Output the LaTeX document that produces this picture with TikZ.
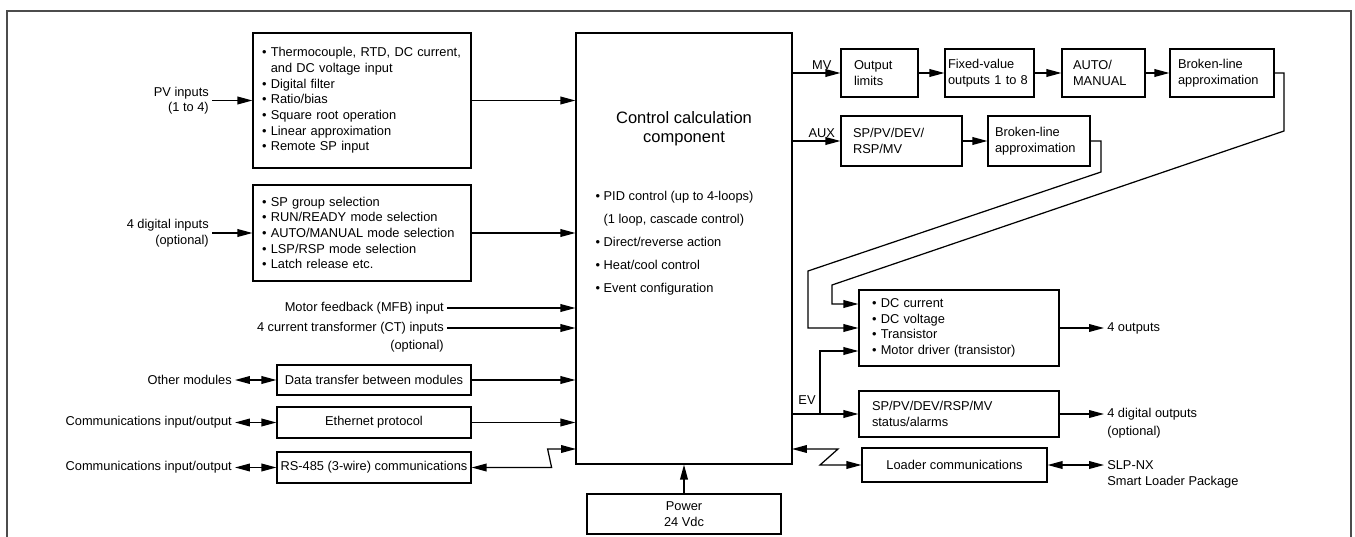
\documentclass[tikz,border=0pt]{standalone}
\usepackage{fontspec}
\setmainfont{Liberation Sans}
\usepackage{tikz}
\usetikzlibrary{arrows.meta}

\begin{document}
\begin{tikzpicture}[x=0.02cm,y=-0.02cm,
  font=\fontsize{7.3}{8.9}\selectfont,
  line width=0.7pt,
  >={Triangle[length=8.5pt,width=4.4pt]},
  frame/.style={line width=1pt,black!70},
  cbox/.style 2 args={draw,align=center,inner sep=0pt,
    minimum width=#1*0.02cm,minimum height=#2*0.02cm},
  lbox/.style n args={3}{draw,align=left,inner ysep=0pt,inner xsep=#3*0.02cm,
    text width={(#1-2*#3)*0.02cm},minimum height=#2*0.02cm},
  lbl/.style={inner sep=1.5pt}]
\useasboundingbox (0,0) rectangle (1355,537);
\draw[frame] (7,537) -- (7,11) -- (1351,11) -- (1351,537);

\node[lbox={218}{135}{9}] (pv) at (362,100.5)
  {\textbullet\ Thermocouple, RTD, DC current,\\
   \hphantom{\textbullet\ }and DC voltage input\\
   \textbullet\ Digital filter\\
   \textbullet\ Ratio/bias\\
   \textbullet\ Square root operation\\
   \textbullet\ Linear approximation\\
   \textbullet\ Remote SP input};
\node[lbox={218}{96}{9}] (dig) at (362,233)
  {\textbullet\ SP group selection\\
   \textbullet\ RUN/READY mode selection\\
   \textbullet\ AUTO/MANUAL mode selection\\
   \textbullet\ LSP/RSP mode selection\\
   \textbullet\ Latch release etc.};
\node[cbox={194}{30}] (data) at (374,380) {Data transfer between modules};
\node[cbox={194}{31}] (eth) at (374,422.5) {Ethernet protocol};
\node[cbox={194}{31}] (rs) at (374,467.5) {RS-485 (3-wire) communications};

\node[cbox={216}{431}] (ctrl) at (684,248.5) {};
\node[align=center,font=\fontsize{9.4}{10.8}\selectfont] (ctrltitle) at (684,128.5)
  {Control calculation\\component};
\node[align=left,anchor=west,inner sep=0pt,font=\fontsize{7.3}{13.1}\selectfont] (ctrlist) at (595,243.5)
  {\textbullet\ PID control (up to 4-loops)\\
   \hphantom{\textbullet\ }(1 loop, cascade control)\\
   \textbullet\ Direct/reverse action\\
   \textbullet\ Heat/cool control\\
   \textbullet\ Event configuration};
\node[cbox={194}{40}] (pwr) at (684,514) {Power\\24 Vdc};

\node[lbox={77}{48}{13}] (olim) at (879.5,73) {Output\\limits};
\node[lbox={89}{48}{3}] (fix) at (989.5,73) {Fixed-value\\outputs 1 to 8};
\node[lbox={83}{48}{11}] (am) at (1103.5,73) {AUTO/\\MANUAL};
\node[lbox={104}{48}{8}] (bl1) at (1222,73) {Broken-line\\approximation};
\node[lbox={121}{50}{12}] (aux) at (901.5,141) {SP/PV/DEV/\\RSP/MV};
\node[lbox={102}{50}{7}] (bl2) at (1039,141) {Broken-line\\approximation};
\node[lbox={200}{76}{13}] (dc) at (959,328)
  {\textbullet\ DC current\\
   \textbullet\ DC voltage\\
   \textbullet\ Transistor\\
   \textbullet\ Motor driver (transistor)};
\node[lbox={200}{46}{13}] (st) at (959,414) {SP/PV/DEV/RSP/MV\\status/alarms};
\node[cbox={185}{34}] (ldr) at (954.5,465) {Loader communications};

\node[lbl,align=right,anchor=east] (pvin) at (212,100.5) {PV inputs\\(1 to 4)};
\node[lbl,align=right,anchor=east] (digin) at (212,233) {4 digital inputs\\(optional)};
\node[lbl,anchor=east] (mfb) at (447,308) {Motor feedback (MFB) input};
\node[lbl,anchor=east] (ct) at (447,328) {4 current transformer (CT) inputs};
\node[lbl,anchor=north east] (ctopt) at (ct.south east) {(optional)};
\node[lbl,anchor=east] (other) at (235,380) {Other modules};
\node[lbl,anchor=east] (comm1) at (235,422.5) {Communications input/output};
\node[lbl,anchor=east] (comm2) at (235,467.5) {Communications input/output};
\node[lbl,anchor=west] (out4) at (1104,328) {4 outputs};
\node[lbl,anchor=west] (dout) at (1104,414) {4 digital outputs};
\node[lbl,anchor=north west] (doutopt) at (dout.south west) {(optional)};
\node[lbl,anchor=west] (slp) at (1104,465) {SLP-NX};
\node[lbl,anchor=north west] (slpsub) at (slp.south west) {Smart Loader Package};
\node[lbl] (evlbl) at (807,400) {EV};

\coordinate (rsin) at (576,449);
\coordinate (ldrout) at (792,449);
\coordinate (mvbend) at (832,304);
\coordinate (auxbend) at (808,328);
\coordinate (evsplit) at (820,414);
\coordinate (evbend) at (820,351);

\draw[->] (pvin.east) -- (pv.west);
\draw[->] (pv.east) -- (pv.east -| ctrl.west);
\draw[->] (digin.east) -- (dig.west);
\draw[->] (dig.east) -- (dig.east -| ctrl.west);
\draw[->] (mfb.east) -- (mfb.east -| ctrl.west);
\draw[->] (ct.east) -- (ct.east -| ctrl.west);
\draw[<->] (other.east) -- (data.west);
\draw[->] (data.east) -- (data.east -| ctrl.west);
\draw[<->] (comm1.east) -- (eth.west);
\draw[->] (eth.east) -- (eth.east -| ctrl.west);
\draw[<->] (comm2.east) -- (rs.west);
\draw[<->] (rs.east) -- +(80,0) -- +(76,-18.5) -- (rsin);
\draw[->] (pwr.north) -- (ctrl.south);

\draw[->] (ctrl.east |- olim.west) -- node[lbl,above,xshift=3pt] (mvlbl) {MV} (olim.west);
\draw[->] (olim.east) -- (fix.west);
\draw[->] (fix.east) -- (am.west);
\draw[->] (am.east) -- (bl1.west);
\draw[->] (ctrl.east |- aux.west) -- node[lbl,above,xshift=3pt] (auxlbl) {AUX} (aux.west);
\draw[->] (aux.east) -- (bl2.west);
\draw[->] (bl1.east) -- (1284,73) -- (1284,131) -- (832,285) -- (mvbend) -- (mvbend -| dc.west);
\draw[->] (bl2.east) -- (1101,141) -- (1101,172) -- (808,271) -- (auxbend) -- (auxbend -| dc.west);
\draw[->] (ctrl.east |- st.west) -- (st.west);
\draw[->] (evsplit) -- (evbend) -- (evbend -| dc.west);
\draw[<->] (ldrout) -- (838,449) -- (820,465) -- (ldr.west);

\draw[->] (dc.east) -- (out4.west);
\draw[->] (st.east) -- (dout.west);
\draw[<->] (ldr.east) -- (slp.west);
\end{tikzpicture}
\end{document}
